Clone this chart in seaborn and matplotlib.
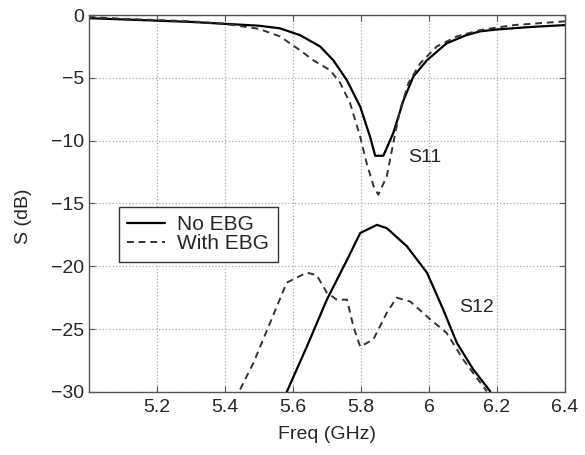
import numpy as np
import pandas as pd
import seaborn as sns
import matplotlib
matplotlib.use("Agg")
import matplotlib.pyplot as plt

# S11 sem EBG (linha cheia)
f_s11_no = [5.0, 5.1, 5.2, 5.3, 5.4, 5.5, 5.562, 5.621, 5.68, 5.719, 5.759, 5.798, 5.827, 5.842,
            5.866, 5.895, 5.925, 5.954, 5.994, 6.052, 6.11, 6.15, 6.2, 6.3, 6.4]
s11_no = [-0.25, -0.35, -0.45, -0.55, -0.7, -0.85, -1.06, -1.6, -2.5, -3.6, -5.2, -7.3, -9.7, -11.2,
          -11.2, -9.4, -6.8, -4.9, -3.6, -2.25, -1.6, -1.3, -1.15, -0.95, -0.8]

# S11 com EBG (tracejada)
f_s11_ebg = [5.0, 5.1, 5.2, 5.3, 5.4, 5.5, 5.562, 5.621, 5.66, 5.71, 5.739, 5.768, 5.798, 5.817,
             5.837, 5.851, 5.876, 5.895, 5.915, 5.94, 5.974, 6.023, 6.082, 6.15, 6.25, 6.4]
s11_ebg = [-0.15, -0.3, -0.4, -0.5, -0.7, -1.1, -1.7, -2.8, -3.6, -4.4, -5.4, -7.0, -9.7, -11.8,
           -13.6, -14.3, -12.85, -10.2, -7.55, -5.4, -3.85, -2.5, -1.7, -1.2, -0.8, -0.5]

# S12 sem EBG
f_s12_no = [5.582, 5.641, 5.70, 5.759, 5.798, 5.847, 5.876, 5.935, 5.994, 6.042, 6.082, 6.13, 6.18]
s12_no = [-30.0, -26.4, -22.65, -19.5, -17.35, -16.7, -16.96, -18.4, -20.5, -23.45, -26.1, -28.2, -29.95]

# S12 com EBG
f_s12_ebg = [5.445, 5.484, 5.533, 5.582, 5.641, 5.67, 5.70, 5.729, 5.759, 5.778, 5.798, 5.837,
             5.876, 5.905, 5.945, 6.003, 6.052, 6.10, 6.17]
s12_ebg = [-29.8, -27.7, -24.5, -21.3, -20.5, -20.7, -22.1, -22.65, -22.65, -24.8, -26.4, -25.8,
           -23.7, -22.5, -22.8, -24.2, -25.3, -27.4, -29.95]

xticks = [5.2, 5.4, 5.6, 5.8, 6.0, 6.2, 6.4]
xlabels = ['5.2', '5.4', '5.6', '5.8', '6', '6.2', '6.4']
yticks = [0, -5, -10, -15, -20, -25, -30]

sns.set_style("ticks")
plt.rcParams['font.family'] = ['Liberation Sans', 'DejaVu Sans']
plt.rcParams['axes.unicode_minus'] = False

fig = plt.figure(figsize=(5.85, 4.55), dpi=100)
ax = fig.add_axes([0.1515, 0.1385, 0.8145, 0.8285])

sns.lineplot(x=f_s11_no, y=s11_no, ax=ax, color='black', linewidth=1.6, label='No EBG')
sns.lineplot(x=f_s11_ebg, y=s11_ebg, ax=ax, color='#333333', linewidth=1.4,
             linestyle=(0, (3.5, 2.5)), label='With EBG')
sns.lineplot(x=f_s12_no, y=s12_no, ax=ax, color='black', linewidth=1.6)
sns.lineplot(x=f_s12_ebg, y=s12_ebg, ax=ax, color='#333333', linewidth=1.4,
             linestyle=(0, (3.5, 2.5)))

ax.set_xlim(5.0, 6.4)
ax.set_ylim(-30, 0)
ax.set_xticks(xticks)
ax.set_xticklabels(xlabels)
ax.set_yticks(yticks)
ax.set_yticklabels([str(v).replace('-', '\u2212') for v in yticks])
ax.grid(True, linestyle=':', color='#aaaaaa', linewidth=0.9)
ax.tick_params(direction='in', top=True, right=True, labelsize=14, length=4, color='#555555')
ax.tick_params(axis='x', pad=5)
for s in ax.spines.values():
    s.set_color('#555555')
    s.set_linewidth(1.0)

ax.set_xlabel('Freq (GHz)', fontsize=14, labelpad=7)
ax.set_ylabel('S (dB)', fontsize=14)
ax.yaxis.set_label_coords(-0.119, 0.465)

ax.text(5.94, -11.3, 'S11', fontsize=14, va='center', ha='left')
ax.text(6.09, -23.3, 'S12', fontsize=14, va='center', ha='left')

leg = ax.legend(loc='upper left', bbox_to_anchor=(0.064, 0.491), fontsize=15,
                fancybox=False, framealpha=1, edgecolor='#333333', handlelength=1.8,
                handletextpad=0.6, borderpad=0.4, labelspacing=0.0, borderaxespad=0)
leg.get_frame().set_linewidth(1.0)

fig.savefig('out.png', dpi=100)
